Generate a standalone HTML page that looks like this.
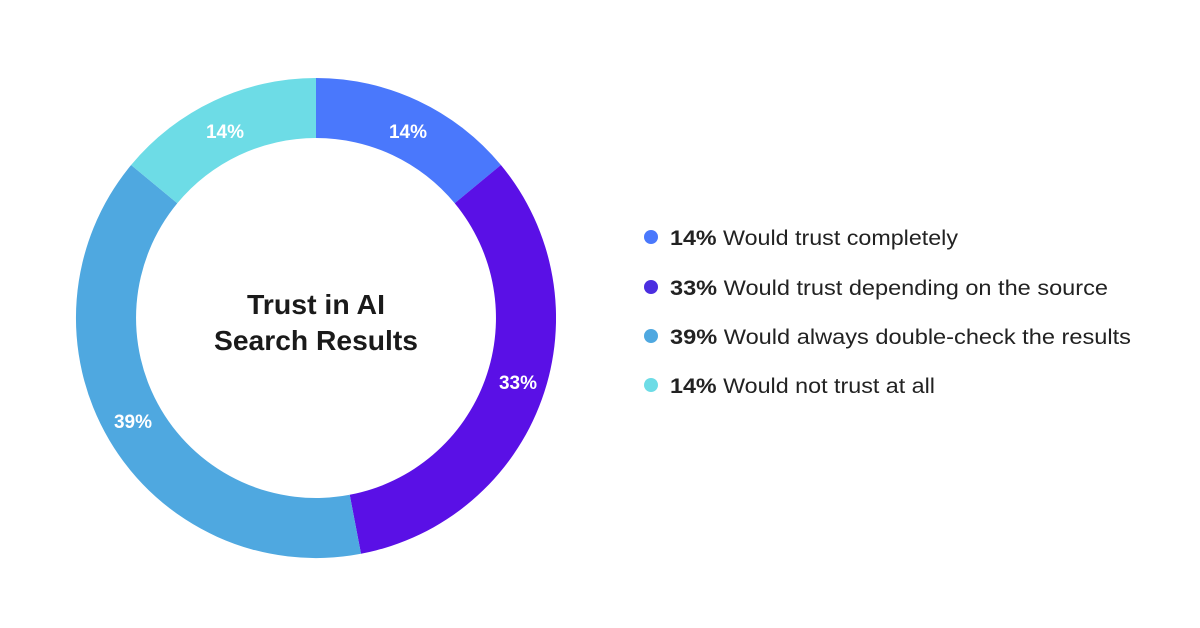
<!DOCTYPE html>
<html><head><meta charset="utf-8"><style>
html,body{margin:0;padding:0;background:#fff;}
svg{display:block;}
</style></head><body>
<svg width="1200" height="628" viewBox="0 0 1200 628" xmlns="http://www.w3.org/2000/svg">
<defs><clipPath id="c"><rect x="0" y="0" width="556" height="628"/></clipPath></defs>
<g clip-path="url(#c)">
<path d="M316,78 A240,240 0 0 1 500.9,165 L454.7,203.3 A180,180 0 0 0 316,138 Z" fill="#4a78fc"/>
<path d="M500.9,165 A240,240 0 0 1 361,553.8 L349.7,494.8 A180,180 0 0 0 454.7,203.3 Z" fill="#5a10e6"/>
<path d="M361,553.8 A240,240 0 0 1 131.1,165 L177.3,203.3 A180,180 0 0 0 349.7,494.8 Z" fill="#4fa8e0"/>
<path d="M131.1,165 A240,240 0 0 1 316,78 L316,138 A180,180 0 0 0 177.3,203.3 Z" fill="#6ddce6"/>
</g>
<g font-family="Liberation Sans, sans-serif" font-weight="bold" font-size="19" fill="#fff" text-anchor="middle">
<text x="408" y="138">14%</text>
<text x="518" y="389">33%</text>
<text x="133" y="428">39%</text>
<text x="225" y="138">14%</text>
</g>
<g font-family="Liberation Sans, sans-serif" font-weight="bold" font-size="28" fill="#1a1a1a" text-anchor="middle">
<text x="316" y="314" textLength="138" lengthAdjust="spacingAndGlyphs">Trust in AI</text>
<text x="316" y="350" textLength="204" lengthAdjust="spacingAndGlyphs">Search Results</text>
</g>
<g font-family="Liberation Sans, sans-serif" font-size="21" fill="#222">
<circle cx="651" cy="237" r="7" fill="#4a78fc"/>
<text x="670" y="245" textLength="288" lengthAdjust="spacingAndGlyphs"><tspan font-weight="bold">14%</tspan> Would trust completely</text>
<circle cx="651" cy="287" r="7" fill="#4b2ee0"/>
<text x="670" y="295" textLength="438" lengthAdjust="spacingAndGlyphs"><tspan font-weight="bold">33%</tspan> Would trust depending on the source</text>
<circle cx="651" cy="336" r="7" fill="#4fa8e0"/>
<text x="670" y="344" textLength="461" lengthAdjust="spacingAndGlyphs"><tspan font-weight="bold">39%</tspan> Would always double-check the results</text>
<circle cx="651" cy="385" r="7" fill="#6ddce6"/>
<text x="670" y="393" textLength="265" lengthAdjust="spacingAndGlyphs"><tspan font-weight="bold">14%</tspan> Would not trust at all</text>
</g>
</svg>
</body></html>
